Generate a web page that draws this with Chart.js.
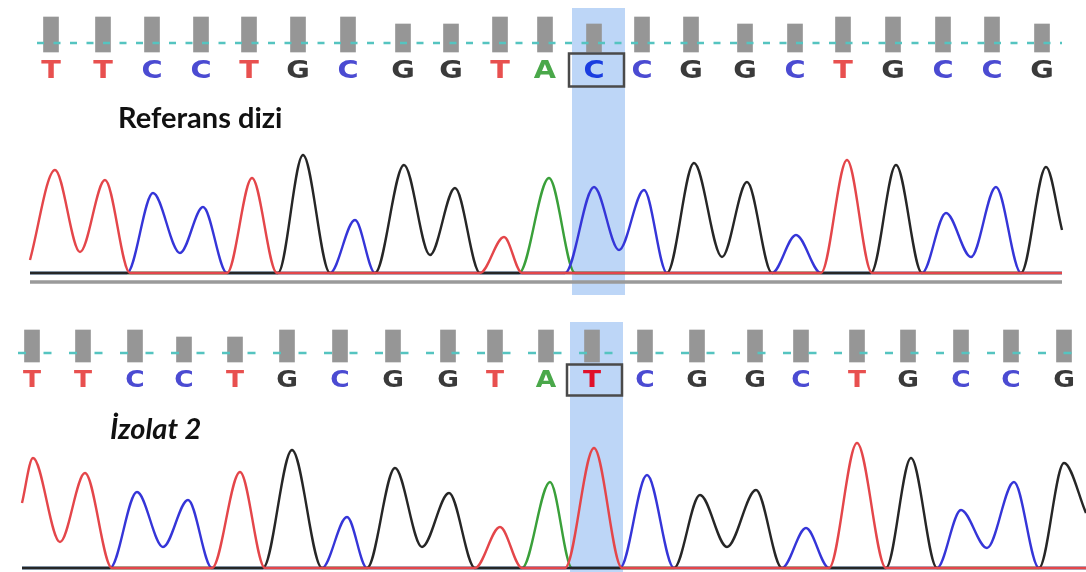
<!DOCTYPE html>
<html>
<head>
<meta charset="utf-8">
<script src="https://cdn.jsdelivr.net/npm/chart.js"></script>
<style>
  body { margin: 0; background: #fff; width: 1086px; height: 572px; overflow: hidden; position: relative; }
  .panel { position: absolute; left: 0; width: 1086px; }
  .label { position: absolute; font-family: Lato, "Open Sans", sans-serif; font-weight: bold; font-size: 29px; line-height: 1; color: #111; }
</style>
</head>
<body>
<div class="panel" style="top:0;height:300px"><canvas id="refChart" width="1086" height="300"></canvas></div>
<div class="panel" style="top:300px;height:272px"><canvas id="isoChart" width="1086" height="272"></canvas></div>
<div class="label" style="left:118px;top:102px">Referans dizi</div>
<div class="label" style="left:110px;top:413px;font-style:italic">İzolat 2</div>
<script>
// base calls
const refLetters = ['T','T','C','C','T','G','C','G','G','T','A','C','C','G','G','C','T','G','C','C','G'];
const isoLetters = ['T','T','C','C','T','G','C','G','G','T','A','T','C','G','G','C','T','G','C','C','G'];
const refBases = [51,103,152,201,249,298,348,403,451,500,545,594,642,691,745,795,843,893,943,992,1042];
const isoBases = [32,83,135,184,235,287,340,393,448,495,546,592,645,697,755,801,857,908,961,1011,1064];
const refQuality = [35,35,35,35,35,35,35,28,28,35,35,28,35,35,28,28,35,35,35,35,28];
const isoQuality = [32,32,32,25,25,32,32,32,32,32,32,32,32,32,32,32,32,32,32,32,32];
const qualityCutoff = 9;
const mutationIndex = 11;

// trace signal [scan, intensity]
const refRed   = [[30,13],[55,103],[80,21],[105,93],[130,0],[227,0],[252,95],[277,0],[480,0],[504,36],[522,0],[821,0],[847,113],[872,0],[1062,0]];
const refBlue  = [[30,0],[127,0],[153,80],[180,20],[203,66],[227,0],[330,0],[355,53],[375,0],[565,0],[594,86],[619,23],[644,83],[667,0],[772,0],[796,38],[821,0],[922,0],[946,60],[971,16],[996,86],[1021,0],[1062,0]];
const refBlack = [[30,0],[278,0],[303,118],[330,0],[375,0],[404,108],[430,18],[455,85],[480,0],[667,0],[694,110],[722,16],[747,91],[772,0],[871,0],[896,108],[922,0],[1021,0],[1046,106],[1062,43]];
const refGreen = [[30,0],[519,0],[549,95],[575,0],[1062,0]];

const isoRed   = [[22,65],[33,110],[60,26],[85,95],[112,0],[212,0],[240,96],[265,0],[475,0],[500,41],[522,0],[565,0],[594,120],[622,0],[829,0],[857,125],[886,0],[1086,0]];
const isoBlue  = [[22,0],[110,0],[137,76],[163,21],[188,68],[212,0],[322,0],[347,51],[367,0],[620,0],[647,93],[674,0],[782,0],[806,40],[829,0],[937,0],[961,58],[987,20],[1014,86],[1039,0],[1086,0]];
const isoBlack = [[22,0],[263,0],[292,118],[322,0],[367,0],[395,100],[422,21],[449,75],[475,0],[674,0],[700,73],[727,21],[756,78],[782,0],[886,0],[911,110],[937,0],[1039,0],[1064,105],[1086,55]];
const isoGreen = [[22,0],[522,0],[550,86],[572,0],[1086,0]];

const baseColors = { T: '#e8504f', C: '#4b4bd2', G: '#3a3a3a', A: '#4aa84a' };
const markColors = { T: '#e0102a', C: '#1a3de0', G: '#222', A: '#2a9a2a' };

const pts = arr => arr.map(p => ({ x: p[0], y: p[1] }));

const seqPlugin = {
  id: 'seq',
  beforeDatasetsDraw(chart, args, o) {
    const ctx = chart.ctx;
    const c = chart.scales.x.getPixelForValue(o.bases[o.mark]);
    ctx.save();
    ctx.fillStyle = '#bdd6f7';
    ctx.fillRect(c - 22, o.hlTop, 53, o.hlBottom - o.hlTop);
    ctx.restore();
  },
  afterDatasetsDraw(chart, args, o) {
    const ctx = chart.ctx, x = chart.scales.x;
    const y0 = chart.scales.yq.getPixelForValue(0) + 18;
    ctx.save();
    ctx.font = 'bold ' + o.size + 'px "DejaVu Sans"';
    ctx.textAlign = 'center';
    ctx.textBaseline = 'middle';
    o.letters.forEach((b, i) => {
      ctx.save();
      ctx.translate(x.getPixelForValue(o.bases[i]), y0);
      ctx.scale(1.15, 1);
      ctx.fillStyle = i === o.mark ? markColors[b] : baseColors[b];
      ctx.fillText(b, 0, 1);
      ctx.restore();
    });
    // box round the changed base
    const c = x.getPixelForValue(o.bases[o.mark]);
    ctx.strokeStyle = '#4a4a4a';
    ctx.lineWidth = 2.5;
    ctx.strokeRect(c - 25, y0 - o.boxH / 2, 55, o.boxH);
    ctx.restore();
  }
};

function trace(data, color, order) {
  return {
    type: 'line', yAxisID: 'ys', data: pts(data), borderColor: color, borderWidth: 2.4,
    pointRadius: 0, cubicInterpolationMode: 'monotone', order: order
  };
}

function makePanel(id, p) {
  const last = p.bases.length - 1;
  const datasets = [
    {
      type: 'bar', yAxisID: 'yq', data: p.bases.map((b, i) => ({ x: b, y: p.quality[i] })),
      backgroundColor: '#969696', barThickness: 15, order: 2
    },
    {
      type: 'line', yAxisID: 'yq',
      data: [{ x: p.bases[0] - 14, y: qualityCutoff }, { x: p.bases[last] + 20, y: qualityCutoff }],
      borderColor: '#55c4c0', borderWidth: 2.5, borderDash: p.dash, pointRadius: 0, order: 1
    },
    trace(p.green, '#3aa03a', 6),
    trace(p.blue, '#3535d8', 5),
    trace(p.black, '#262626', 4),
    trace(p.red, '#e4464a', 3)
  ];
  if (p.track) {
    datasets.push({
      type: 'line', yAxisID: 'ys',
      data: [{ x: p.red[0][0], y: p.track }, { x: p.red[p.red.length - 1][0], y: p.track }],
      borderColor: '#9a9a9a', borderWidth: 3.5, pointRadius: 0, order: 7
    });
  }
  new Chart(document.getElementById(id), {
    data: { datasets: datasets },
    plugins: [seqPlugin],
    options: {
      responsive: false,
      animation: false,
      events: [],
      layout: { padding: 0 },
      scales: {
        x: { type: 'linear', min: 0, max: 1086, offset: false, display: false },
        yq: { type: 'linear', min: p.yq[0], max: p.yq[1], display: false },
        ys: { type: 'linear', min: p.ys[0], max: p.ys[1], display: false }
      },
      plugins: {
        legend: { display: false },
        tooltip: { enabled: false },
        seq: {
          letters: p.letters, bases: p.bases, mark: mutationIndex, size: p.size,
          boxH: p.boxH, hlTop: p.hl[0], hlBottom: p.hl[1]
        }
      }
    }
  });
}

makePanel('refChart', {
  letters: refLetters, bases: refBases, quality: refQuality,
  red: refRed, blue: refBlue, black: refBlack, green: refGreen,
  yq: [-248, 52], ys: [-27, 273], dash: [7, 9.5], size: 25, boxH: 33, hl: [8, 295], track: -9
});

makePanel('isoChart', {
  letters: isoLetters, bases: isoBases, quality: isoQuality,
  red: isoRed, blue: isoBlue, black: isoBlack, green: isoGreen,
  yq: [-210, 62], ys: [-4, 268], dash: [8, 17.5], size: 23, boxH: 31, hl: [22, 272]
});
</script>
</body>
</html>
